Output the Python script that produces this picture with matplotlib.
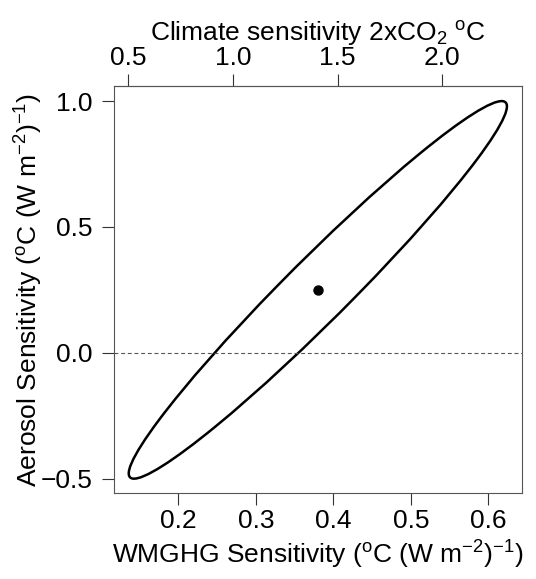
import numpy as np
import matplotlib
matplotlib.use('Agg')
from matplotlib import pyplot as plt
from matplotlib.patches import Ellipse

plt.rcParams['font.family'] = ['Liberation Sans', 'DejaVu Sans']
plt.rcParams['mathtext.fontset'] = 'custom'
plt.rcParams['mathtext.rm'] = 'Liberation Sans'
plt.rcParams['mathtext.it'] = 'Liberation Sans'
plt.rcParams['mathtext.default'] = 'rm'
plt.rcParams['axes.unicode_minus'] = True

# best estimate (WMGHG, aerosol) and the spread of the confidence ellipse
center = (0.38, 0.25)
sd_x = 0.244
sd_y = 0.75
rho = 0.972
ecs_per_unit = 3.7          # 2xCO2 forcing, W m-2

xticks = [0.2, 0.3, 0.4, 0.5, 0.6]
yticks = [-0.5, 0.0, 0.5, 1.0]
top_ticks = [0.5, 1.0, 1.5, 2.0]

def fmt(v):
    return ('%.1f' % v).replace('-', '\u2212')

fig = plt.figure(figsize=(5.36, 5.79), dpi=100)
ax = fig.add_axes([0.2127, 0.1485, 0.762, 0.703])

cov = np.array([[sd_x**2, rho*sd_x*sd_y], [rho*sd_x*sd_y, sd_y**2]])
vals, vecs = np.linalg.eigh(cov)
ang = np.degrees(np.arctan2(vecs[1, 1], vecs[0, 1]))
ell = Ellipse(center, 2*np.sqrt(vals[1]), 2*np.sqrt(vals[0]), angle=ang,
              fill=False, ec='black', lw=1.8)
ax.add_patch(ell)

ax.plot([center[0]], [center[1]], 'o', color='black', ms=6.5)
ax.axhline(0, color='#555555', ls=(0, (3.5, 2.5)), lw=0.8)

ax.set_xlim(0.117, 0.644)
ax.set_ylim(-0.557, 1.06)
ax.set_xticks(xticks)
ax.set_yticks(yticks)
ax.set_xticklabels([fmt(v) for v in xticks])
ax.set_yticklabels([fmt(v) for v in yticks])
ax.tick_params(direction='out', length=8.5, width=0.8, labelsize=19, color='#333333')
ax.tick_params(axis='x', pad=3)
ax.tick_params(axis='y', pad=7)
for s in ax.spines.values():
    s.set_linewidth(0.8)
    s.set_color('#555555')

sec = ax.secondary_xaxis('top', functions=(lambda x: x*ecs_per_unit, lambda x: x/ecs_per_unit))
sec.set_xticks(top_ticks)
sec.set_xticklabels([fmt(v) for v in top_ticks])
sec.tick_params(direction='out', length=8.5, width=0.8, labelsize=19, color='#333333', pad=3)
sec.spines['top'].set_linewidth(0.8)
sec.spines['top'].set_color('#555555')
sec.set_xlabel(r'Climate sensitivity 2xCO$_2$ $^{\mathrm{o}}$C', fontsize=19, labelpad=4)

ax.set_xlabel(r'WMGHG Sensitivity ($^{\mathrm{o}}$C (W m$^{-2}$)$^{-1}$)', fontsize=19, labelpad=4)
ax.set_ylabel(r'Aerosol Sensitivity ($^{\mathrm{o}}$C (W m$^{-2}$)$^{-1}$)', fontsize=19)
ax.yaxis.set_label_coords(-0.168, 0.5)

fig.savefig('out.png', dpi=100)
